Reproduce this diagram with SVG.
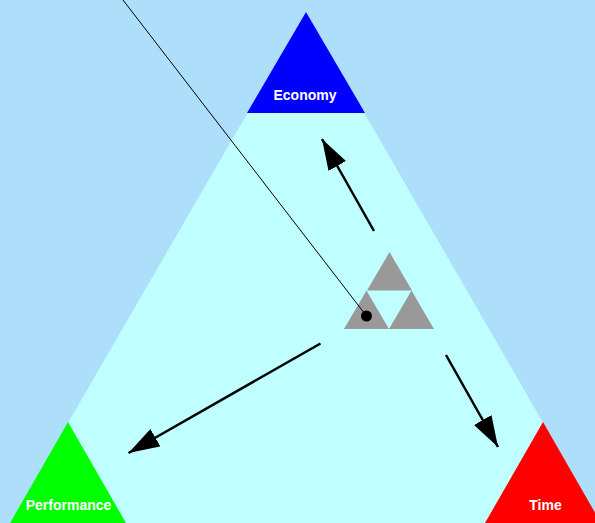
<svg xmlns="http://www.w3.org/2000/svg" width="595" height="523" viewBox="0 0 595 523">
<defs>
<style>
.lbl{font-family:"Liberation Sans",Arial,Helvetica,sans-serif;font-weight:bold;font-size:14px;fill:#ffffff;text-anchor:middle}
.arr{stroke:#000;stroke-width:2.5;fill:none}
.gray{fill:#999999}
</style>
<marker id="ah" viewBox="0 0 31 20" refX="31" refY="10" markerWidth="31" markerHeight="20" markerUnits="userSpaceOnUse" orient="auto">
<path d="M0,0 L31,10 L0,20 z" fill="#000"/>
</marker>
</defs>
<rect x="0" y="0" width="595" height="523" fill="#ADDEFA"/>
<polygon id="field" points="306,12 10,523 601,523" fill="#C0FFFF"/>
<g id="economy">
<polygon points="306,12 247,113 365,113" fill="#0000FF"/>
<text class="lbl" x="305" y="100">Economy</text>
</g>
<g id="performance">
<polygon points="68,422 10,523 126,523" fill="#00FF00"/>
<text class="lbl" x="68.5" y="510">Performance</text>
</g>
<g id="time">
<polygon points="543,422 485,523 601,523" fill="#FF0000"/>
<text class="lbl" x="545.5" y="510">Time</text>
</g>
<g id="center">
<polygon class="gray" points="389.5,252 367,290.5 412,290.5"/>
<polygon class="gray" points="366.5,290.5 344,329 389,329"/>
<polygon class="gray" points="411.5,290.5 389,329 434,329"/>
</g>
<g id="connectors">
<line x1="123" y1="0" x2="366.5" y2="316" stroke="#000" stroke-width="1"/>
<circle cx="366.5" cy="316" r="5.5" fill="#000"/>
<line class="arr" x1="374" y1="231" x2="322" y2="139" marker-end="url(#ah)"/>
<line class="arr" x1="320.5" y1="343.5" x2="128.5" y2="453" marker-end="url(#ah)"/>
<line class="arr" x1="446" y1="355" x2="498" y2="447" marker-end="url(#ah)"/>
</g>
</svg>
